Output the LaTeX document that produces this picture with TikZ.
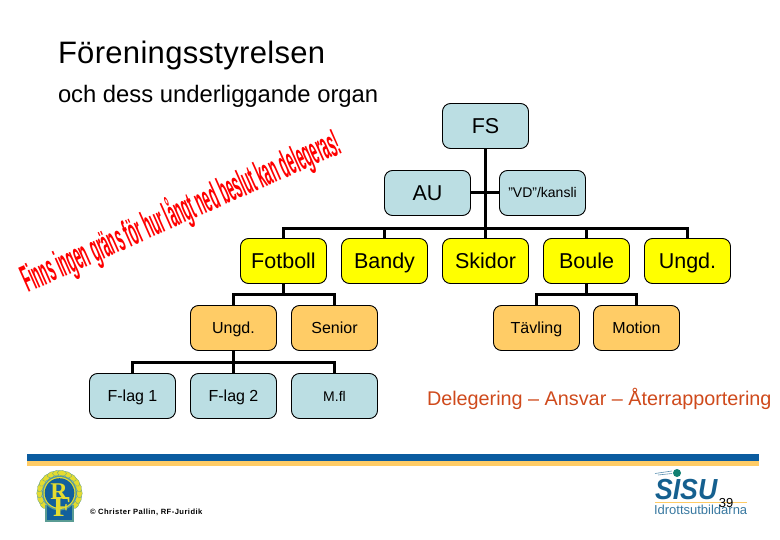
\documentclass[tikz,border=0pt]{standalone}
\usepackage{fontspec}
\setmainfont{Liberation Sans}
\newfontfamily\emblemfont{Liberation Serif}[Scale=1]
\definecolor{tealbox}{HTML}{BBDEE3}
\definecolor{yelbox}{HTML}{FFFF00}
\definecolor{orabox}{HTML}{FFCC66}
\definecolor{barblue}{HTML}{0B5CA0}
\definecolor{barora}{HTML}{FFCC66}
\definecolor{delred}{HTML}{CF4A1C}
\definecolor{sisublue}{HTML}{15608F}
\definecolor{emblue}{HTML}{12609C}
\definecolor{emteal}{HTML}{5A9C94}
\definecolor{emyel}{HTML}{E4DC30}
\newcommand{\fpx}[1]{\fontsize{#1pt}{#1pt}\selectfont}
\tikzset{
 x=1pt,y=-1pt,
 orgbox/.style={draw=black,line width=.9pt,rounded corners=8pt,minimum width=86pt,minimum height=45pt,inner sep=0pt,text depth=0pt,align=center},
 tealnode/.style={orgbox,fill=tealbox},
 yelnode/.style={orgbox,fill=yelbox},
 oranode/.style={orgbox,fill=orabox},
 big/.style={font=\fpx{21.5},text height=15.5pt},
 mid/.style={font=\fpx{16},text height=11.5pt},
 sml/.style={font=\fpx{14},text height=10pt},
 conn/.style={draw=black,line width=3pt},
 plain/.style={inner sep=0pt,outer sep=0pt},
 leaf/.style={fill=emyel,draw=emteal,line width=.3pt},
}
\begin{document}
\begin{tikzpicture}
\useasboundingbox (0,0) rectangle (780,540);
\node[plain,anchor=west,font=\fpx{31}] (title) at (58,55) {\addfontfeature{LetterSpace=1}Föreningsstyrelsen};
\node[plain,anchor=west,font=\fpx{23.8}] (sub) at (58,96) {och dess underliggande organ};

\coordinate (busA) at (0,229);
\coordinate (busB) at (0,295);
\coordinate (busC) at (0,363);

\node[tealnode,big] (FS) at (485.5,126) {FS};
\node[tealnode,big] (AU) at (427.5,193) {AU};
\node[tealnode,sml] (VD) at (542.5,193) {"VD"/kansli};
\node[yelnode,big] (fotboll) at (283.5,261) {Fotboll};
\node[yelnode,big] (bandy) at (384.5,261) {Bandy};
\node[yelnode,big] (skidor) at (485.5,261) {Skidor};
\node[yelnode,big] (boule) at (586.5,261) {Boule};
\node[yelnode,big] (ungdA) at (687.5,261) {Ungd.};
\node[oranode,mid] (ungdB) at (233.5,328) {Ungd.};
\node[oranode,mid] (senior) at (334.5,328) {Senior};
\node[oranode,mid] (tavling) at (536.5,328) {Tävling};
\node[oranode,mid] (motion) at (636.5,328) {Motion};
\node[tealnode,mid] (flag1) at (132.5,396) {F-lag 1};
\node[tealnode,mid] (flag2) at (233.5,396) {F-lag 2};
\node[tealnode,sml] (mfl) at (334.5,396) {M.fl};

\draw[conn] (FS.south) -- (skidor.north);
\draw[conn] (AU.east) -- (VD.west);
\draw[conn] (fotboll.north) -- (fotboll.north |- busA) -- (ungdA.north |- busA) -- (ungdA.north);
\draw[conn] (bandy.north) -- (bandy.north |- busA);
\draw[conn] (boule.north) -- (boule.north |- busA);
\draw[conn] (fotboll.south) -- (fotboll.south |- busB);
\draw[conn] (ungdB.north) -- (ungdB.north |- busB) -- (senior.north |- busB) -- (senior.north);
\draw[conn] (boule.south) -- (boule.south |- busB);
\draw[conn] (tavling.north) -- (tavling.north |- busB) -- (motion.north |- busB) -- (motion.north);
\draw[conn] (ungdB.south) -- (flag2.north);
\draw[conn] (flag1.north) -- (flag1.north |- busC) -- (mfl.north |- busC) -- (mfl.north);

\node[plain,rotate=24,text=red,font=\bfseries\fpx{38}] (slogan) at (181,212)
 {\scalebox{.332}[1]{Finns ingen gräns för hur långt ned beslut kan delegeras!}};

\node[plain,anchor=west,text=delred,font=\fpx{19.8}] (deleg) at (427,399) {Delegering – Ansvar – Återrapportering};

\fill[barblue] (27,454) rectangle (759,460.5);
\fill[barora] (27,460.5) rectangle (759,466);

% RF emblem
\foreach \a in {215,198,181,164,147,130,113,97,-35,-18,-1,16,33,50,67,83}{
 \fill[leaf,shift={(59.5,493)},rotate=\a] (20,0) ellipse (2.8 and 4.6);}
\fill[emteal] (45,505) rectangle (73.5,522);
\fill[emblue] (47,505) rectangle (71.5,520);
\fill[emteal] (59.5,493) circle (17.5);
\fill[emyel] (59.5,493) circle (16);
\fill[emblue] (59.5,493) circle (14.8);
\node[plain,text=emyel,font=\emblemfont\bfseries\fpx{24}] (rfr) at (59,492) {R};
\node[plain,text=emyel,font=\emblemfont\bfseries\fpx{29}] (rff) at (62,507) {F};

\node[plain,anchor=west,font=\bfseries\fpx{7.6}] (copy) at (90,512) {\addfontfeature{LetterSpace=6}© Christer Pallin, RF-Juridik};

% SISU logo
\node[plain,anchor=west,text=sisublue,font=\bfseries\itshape\fpx{29}] (sisu) at (655,489.5) {\scalebox{.92}[1]{SISU}};
\fill[sisublue!80!green] (677,473) circle (4);
\draw[sisublue!70,line width=.6pt] (655,473.5) -- (672,471);
\draw[sisublue!70,line width=.6pt] (658,475) -- (672,473.5);
\draw[barora,line width=.6pt] (655,502) -- (747,502);
\node[plain,anchor=west,text=sisublue!85,font=\fpx{13}] (idrott) at (654,509.5) {Idrottsutbildarna};
\node[plain,text=black,font=\fpx{13}] (pageno) at (726,503) {39};
\end{tikzpicture}
\end{document}
